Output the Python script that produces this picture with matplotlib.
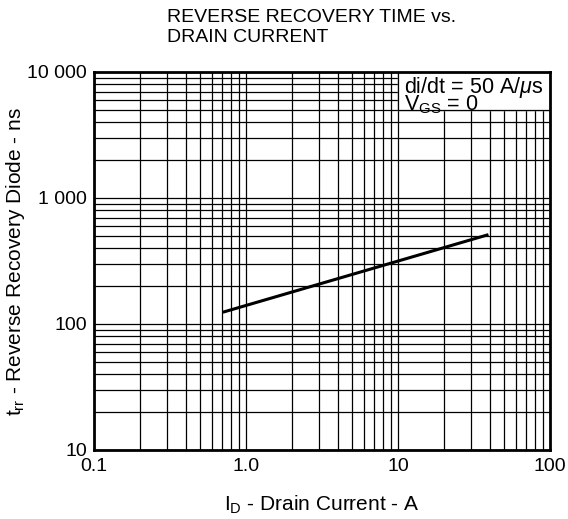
import numpy as np
import matplotlib
matplotlib.use("Agg")
import matplotlib.pyplot as plt
from matplotlib.ticker import FixedLocator, LogLocator, NullFormatter

plt.rcParams['font.family'] = ['Liberation Sans', 'DejaVu Sans']
plt.rcParams['mathtext.fontset'] = 'custom'
plt.rcParams['mathtext.rm'] = 'Liberation Sans'
plt.rcParams['mathtext.it'] = 'Liberation Sans:italic'

# curve
current = [0.72, 38.5]
trr = [125, 508]

xticks = [0.1, 1, 10, 100]
xlabels = ["0.1", "1.0", "10", "100"]
yticks = [10, 100, 1000, 10000]
ylabels = ["10", "100", "1 000", "10 000"]

# axes box in pixels (left, top, right, bottom)
L, T, R, B = 94, 72, 550, 450
W, H = R - L, B - T

fig = plt.figure(figsize=(5.68, 5.19), dpi=100)
ax = fig.add_axes([L/568, 1-B/519, W/568, H/519])
ax.set_xscale('log')
ax.set_yscale('log')
ax.set_xlim(0.1, 100)
ax.set_ylim(10, 10000)

ax.xaxis.set_major_locator(FixedLocator(xticks))
ax.yaxis.set_major_locator(FixedLocator(yticks))
ax.xaxis.set_minor_locator(LogLocator(base=10, subs=np.arange(2, 10)))
ax.yaxis.set_minor_locator(LogLocator(base=10, subs=np.arange(2, 10)))
ax.xaxis.set_minor_formatter(NullFormatter())
ax.yaxis.set_minor_formatter(NullFormatter())
ax.set_xticklabels(xlabels, fontsize=14)
ax.set_yticklabels(ylabels, fontsize=14)
ax.tick_params(axis='y', which='both', length=0, pad=5)
ax.tick_params(axis='x', which='both', length=0, pad=6)

ax.grid(True, which='both', color='black', linewidth=0.9)
for s in ax.spines.values():
    s.set_linewidth(2)

ax.plot(current, trr, color='black', linewidth=2.2, zorder=3)

# condition box
ax.fill_between([10, 100], 5000, 10000, color='white', zorder=2)
ax.plot([10, 10, 100], [10000, 5000, 5000], color='black', linewidth=0.9, zorder=2)
ax.text((404-L)/W, 0.993, "di/dt = 50 A/$\\mu$s\nV$_{\\mathregular{GS}}$ = 0",
        transform=ax.transAxes, ha='left', va='top', fontsize=15.5,
        linespacing=0.65, zorder=4)

ax.set_xlabel("I$_{\\mathregular{D}}$ - Drain Current - A", fontsize=15)
ax.xaxis.set_label_coords((322-L)/W, -(505-B)/H)
ax.set_ylabel("t$_{\\mathregular{rr}}$ - Reverse Recovery Diode - ns", fontsize=15)
ax.yaxis.set_label_coords(-(L-16)/W, (B-262)/H)
ax.xaxis.label.set_va('center')
ax.yaxis.label.set_va('center')

fig.text(167/568, 1-9/519, "REVERSE RECOVERY TIME vs.\nDRAIN CURRENT",
         ha='left', va='top', fontsize=14, linespacing=1.24)

fig.savefig("out.png", dpi=100)
